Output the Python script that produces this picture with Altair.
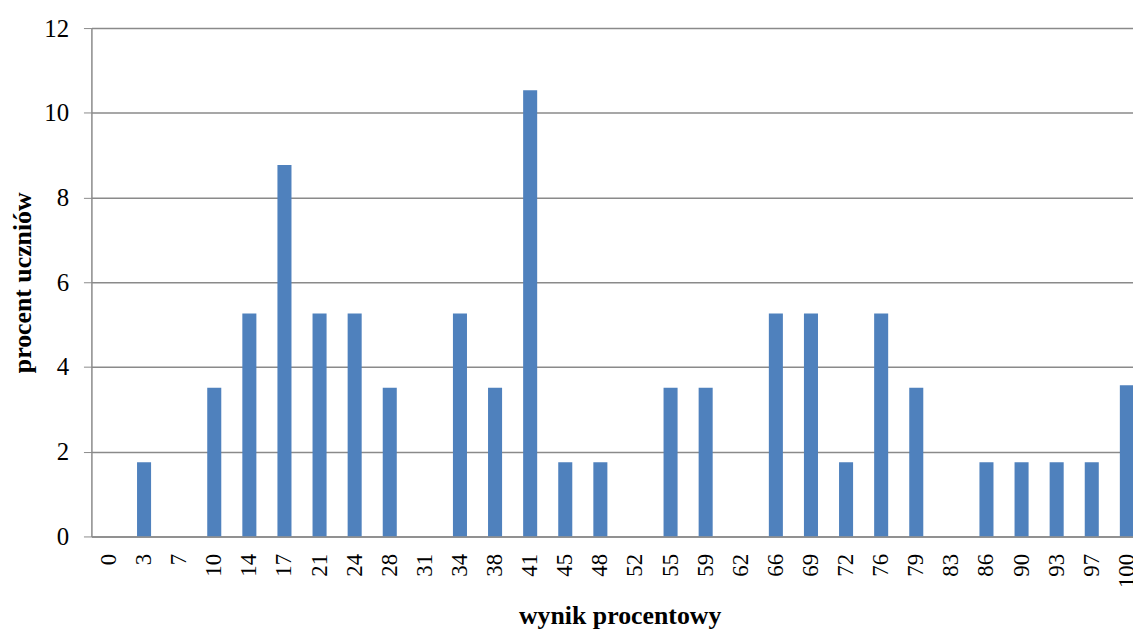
import altair as alt
import pandas as pd

scores = ["0", "3", "7", "10", "14", "17", "21", "24", "28", "31", "34", "38", "41", "45", "48",
          "52", "55", "59", "62", "66", "69", "72", "76", "79", "83", "86", "90", "93", "97", "100"]
percent = [0, 1.75, 0, 3.51, 5.26, 8.77, 5.26, 5.26, 3.51, 0, 5.26, 3.51, 10.53, 1.75, 1.75,
           0, 3.51, 3.51, 0, 5.26, 5.26, 1.75, 5.26, 3.51, 0, 1.75, 1.75, 1.75, 1.75, 3.57]
y_ticks = [0, 2, 4, 6, 8, 10, 12]

df = pd.DataFrame({"wynik": scores, "procent": percent})

FONT = "Liberation Serif"
GRAY = "#8a8a8a"

chart = alt.Chart(df).mark_bar(color="#4F81BD", clip=True).encode(
    x=alt.X(
        "wynik:N",
        sort=scores,
        scale=alt.Scale(range=[0, 1060.5], paddingInner=0.6, paddingOuter=0.3),
        axis=alt.Axis(
            title="wynik procentowy",
            labelAngle=270,
            labelAlign="right",
            labelBaseline="middle",
            labelPadding=17,
            labelFont=FONT,
            labelFontSize=23,
            labelColor="black",
            ticks=False,
            tickSize=0,
            domainColor=GRAY,
            domainWidth=1.5,
            titleFont=FONT,
            titleFontSize=26,
            titleFontWeight="bold",
            titleColor="black",
            titleX=532,
            titleY=88,
            titleBaseline="alphabetic",
            titleAlign="center",
            labelOverlap=False,
        ),
    ),
    y=alt.Y(
        "procent:Q",
        scale=alt.Scale(domain=[0, 12], nice=False),
        axis=alt.Axis(
            title="procent uczniów",
            values=y_ticks,
            labelFont=FONT,
            labelFontSize=25,
            labelColor="black",
            labelPadding=15,
            tickSize=8,
            tickColor=GRAY,
            domainColor=GRAY,
            domainWidth=1.5,
            grid=True,
            gridColor=GRAY,
            gridWidth=1.5,
            titleFont=FONT,
            titleFontSize=26,
            titleFontWeight="bold",
            titleColor="black",
            titleAngle=270,
            titleX=-69,
            titleY=256,
            titleAlign="center",
            titleBaseline="middle",
        ),
    ),
).properties(
    width=1049,
    height=512,
    autosize=alt.AutoSizeParams(type="none"),
    padding={"left": 84, "top": 18, "right": 0, "bottom": 92},
).configure_view(strokeWidth=0)

chart.save("out.html", embed_options={"renderer": "svg", "actions": False})
